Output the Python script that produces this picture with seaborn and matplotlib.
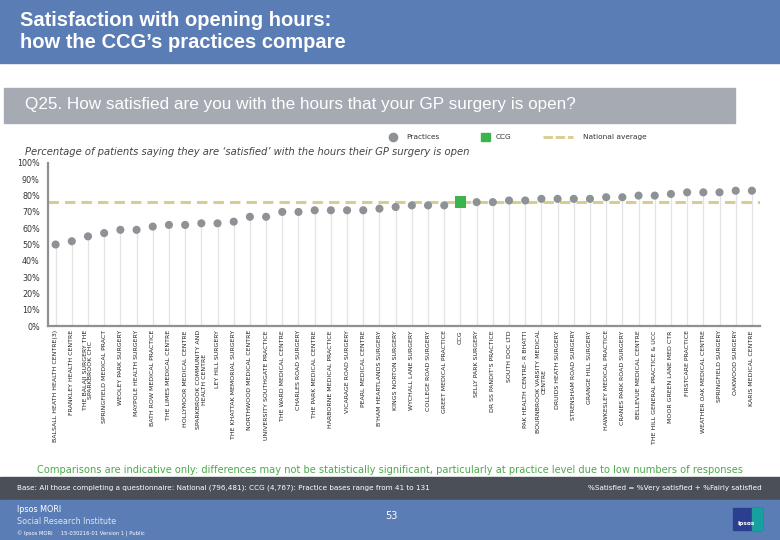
import matplotlib
matplotlib.use("Agg")
import matplotlib.pyplot as plt
import numpy as np
import pandas as pd
import seaborn as sns
from matplotlib.patches import Rectangle

# %% data
practices = [
    "BALSALL HEATH HEALTH CENTRE(3)",
    "FRANKLEY HEALTH CENTRE",
    "THE BALAJI SURGERY THE\nSPARKBROOK CHC",
    "SPRINGFIELD MEDICAL PRACT",
    "WEOLEY PARK SURGERY",
    "MAYPOLE HEALTH SURGERY",
    "BATH ROW MEDICAL PRACTICE",
    "THE LIMES MEDICAL CENTRE",
    "HOLLYMOOR MEDICAL CENTRE",
    "SPARKBROOK COMMUNITY AND\nHEALTH CENTRE",
    "LEY HILL SURGERY",
    "THE KHATTAK MEMORIAL SURGERY",
    "NORTHWOOD MEDICAL CENTRE",
    "UNIVERSITY SOUTHGATE PRACTICE",
    "THE WARD MEDICAL CENTRE",
    "CHARLES ROAD SURGERY",
    "THE PARK MEDICAL CENTRE",
    "HARBORNE MEDICAL PRACTICE",
    "VICARAGE ROAD SURGERY",
    "PEARL MEDICAL CENTRE",
    "B'HAM HEARTLANDS SURGERY",
    "KINGS NORTON SURGERY",
    "WYCHALL LANE SURGERY",
    "COLLEGE ROAD SURGERY",
    "GREET MEDICAL PRACTICE",
    "CCG",
    "SELLY PARK SURGERY",
    "DR SS PANDIT'S PRACTICE",
    "SOUTH DOC LTD",
    "PAK HEALTH CENTRE- R BHATTI",
    "BOURNBROOK VARSITY MEDICAL\nCENTRE",
    "DRUIDS HEATH SURGERY",
    "STRENSHAM ROAD SURGERY",
    "GRANGE HILL SURGERY",
    "HAWKESLEY MEDICAL PRACTICE",
    "CRANES PARK ROAD SURGERY",
    "BELLEVUE MEDICAL CENTRE",
    "THE HILL GENERAL PRACTICE & UCC",
    "MOOR GREEN LANE MED CTR",
    "FIRSTCARE PRACTICE",
    "WEATHER OAK MEDICAL CENTRE",
    "SPRINGFIELD SURGERY",
    "OAKWOOD SURGERY",
    "KARIS MEDICAL CENTRE",
]
satisfied = [50, 52, 55, 57, 59, 59, 61, 62, 62, 63, 63, 64, 67, 67, 70, 70,
             71, 71, 71, 71, 72, 73, 74, 74, 74, 76, 76, 76, 77, 77, 78, 78,
             78, 78, 79, 79, 80, 80, 81, 82, 82, 82, 83, 83]
national_avg = 76

df = pd.DataFrame({"name": practices, "pct": satisfied})
df["pos"] = np.arange(len(df))
df["kind"] = np.where(df["name"] == "CCG", "CCG", "Practices")

# %% colours
BLUE = "#5b7db5"
GREY_BAR = "#a6abb3"
DARK_BAND = "#4b5058"
DOT = "#8e9196"
GREEN = "#3cb44e"
KHAKI = "#d8cc8e"

sns.set_style("white")
plt.rcParams["font.family"] = ["DejaVu Sans"]

fig = plt.figure(figsize=(7.8, 5.4), dpi=100)
W, H = 780, 540


def fx(x):
    return x / W


def fy(y):
    return 1 - y / H


# header / bands
fig.patches.append(Rectangle((0, fy(63)), 1, 63 / H, transform=fig.transFigure, color=BLUE, zorder=0))
fig.patches.append(Rectangle((fx(4), fy(123)), fx(731), 35 / H, transform=fig.transFigure, color=GREY_BAR, zorder=0))
fig.patches.append(Rectangle((0, fy(500)), 1, 23 / H, transform=fig.transFigure, color=DARK_BAND, zorder=0))
fig.patches.append(Rectangle((0, 0), 1, 40 / H, transform=fig.transFigure, color=BLUE, zorder=0))

title_font = ["Liberation Sans Narrow", "Liberation Sans", "DejaVu Sans"]
fig.text(fx(20), fy(21), "Satisfaction with opening hours:", color="white", fontsize=14.5,
         fontweight="bold", family=title_font, va="center")
fig.text(fx(20), fy(43), "how the CCG\u2019s practices compare", color="white", fontsize=14.5,
         fontweight="bold", family=title_font, va="center")
fig.text(fx(25), fy(105), "Q25. How satisfied are you with the hours that your GP surgery is open?",
         color="white", fontsize=12.3, family=title_font, va="center")

# %% plot
ax = fig.add_axes([fx(47.5), fy(326), fx(712.5), 163 / H])
ax.vlines(df["pos"], 0, df["pct"], color="#e3e3e3", lw=0.9, zorder=1)
ax.axhline(national_avg, color=KHAKI, lw=2.2, dashes=(3.4, 2.0), zorder=2)
sns.scatterplot(data=df[df["kind"] == "Practices"], x="pos", y="pct", ax=ax, color=DOT,
                s=34, edgecolor="none", zorder=3, legend=False)
sns.scatterplot(data=df[df["kind"] == "CCG"], x="pos", y="pct", ax=ax, color=GREEN,
                marker="s", s=70, edgecolor="none", zorder=4, legend=False)

ax.set_xlim(-0.5, len(df) - 0.5)
ax.set_ylim(0, 100)
ax.set_yticks(range(0, 101, 10))
ax.set_yticklabels([f"{v}%" for v in range(0, 101, 10)], fontsize=5.8, color="#333333")
ax.set_xticks(df["pos"])
ax.set_xticklabels(df["name"], rotation=90, fontsize=4.5, color="#222222",
                   va="top", ha="center", multialignment="center")
ax.tick_params(axis="x", length=0, pad=3)
ax.set_xticks(np.arange(-0.5, len(df), 1), minor=True)
ax.tick_params(axis="x", which="minor", length=2.5, width=0.8, color="#909090", direction="out")
ax.tick_params(axis="y", length=2.5, width=0.8, color="#909090", pad=3)
ax.set_xlabel("")
ax.set_ylabel("")
for side in ["top", "right"]:
    ax.spines[side].set_visible(False)
for side in ["left", "bottom"]:
    ax.spines[side].set_color("#909090")
    ax.spines[side].set_linewidth(1.6)
ax.patch.set_alpha(0)

# legend
fig.add_artist(plt.Line2D([fx(393)], [fy(137)], marker="o", color=DOT, markersize=6,
                          linestyle="none", transform=fig.transFigure))
fig.text(fx(406), fy(137), "Practices", fontsize=5.3, color="#333333", va="center")
fig.add_artist(Rectangle((fx(481), fy(141)), fx(9), 8 / H, transform=fig.transFigure, color=GREEN))
fig.text(fx(496), fy(137), "CCG", fontsize=5.3, color="#333333", va="center")
fig.add_artist(plt.Line2D([fx(543), fx(573)], [fy(137), fy(137)], color=KHAKI, lw=2,
                          dashes=(3.4, 1.0), transform=fig.transFigure))
fig.text(fx(583), fy(137), "National average", fontsize=5.3, color="#333333", va="center")

fig.text(fx(25), fy(152), "Percentage of patients saying they are \u2018satisfied\u2019 with the hours their GP surgery is open",
         fontsize=7.2, style="italic", color="#444444", va="center")

# footer
fig.text(fx(390), fy(470), "Comparisons are indicative only: differences may not be statistically significant, "
         "particularly at practice level due to low numbers of responses",
         fontsize=7.1, color="#4caa4c", ha="center", va="center")
fig.text(fx(17), fy(488), "Base: All those completing a questionnaire: National (796,481): CCG (4,767): "
         "Practice bases range from 41 to 131", fontsize=5.2, color="white", va="center")
fig.text(fx(762), fy(488), "%Satisfied = %Very satisfied + %Fairly satisfied", fontsize=5.2,
         color="white", ha="right", va="center")
fig.text(fx(17), fy(510), "Ipsos MORI", fontsize=5.8, color="white", va="center")
fig.text(fx(17), fy(521), "Social Research Institute", fontsize=5.8, color="#dde4f0", va="center")
fig.text(fx(17), fy(534), "\u00a9 Ipsos MORI     15-030216-01 Version 1 | Public", fontsize=3.8,
         color="white", va="center")
fig.text(fx(391), fy(516), "53", fontsize=7, color="white", ha="center", va="center")
fig.add_artist(Rectangle((fx(733), fy(530)), fx(29), 22 / H, transform=fig.transFigure, color="#2a3f8f"))
fig.add_artist(Rectangle((fx(752), fy(530)), fx(10), 22 / H, transform=fig.transFigure, color="#18a0a0"))
fig.text(fx(746), fy(524), "Ipsos", fontsize=4.2, color="white", fontweight="bold", ha="center", va="center")

fig.savefig("out.png", dpi=100)
